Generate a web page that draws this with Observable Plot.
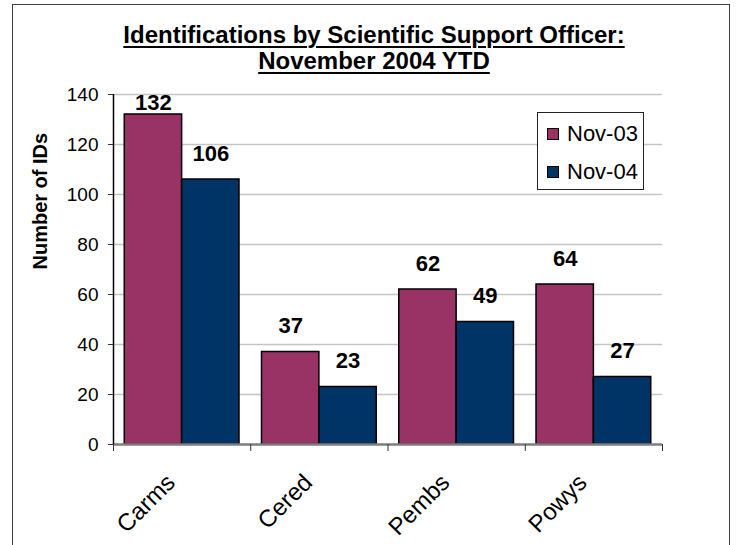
<!DOCTYPE html>
<html>
<head>
<meta charset="utf-8">
<script src="https://cdn.jsdelivr.net/npm/d3@7"></script>
<script src="https://cdn.jsdelivr.net/npm/@observablehq/plot@0.6"></script>
<style>
  html, body { margin: 0; padding: 0; background: #fff; overflow: hidden; }
  #wrap { position: relative; width: 736px; height: 545px; overflow: hidden; font-family: "Liberation Sans", Arial, sans-serif; }
  #frame { position: absolute; left: 12px; top: 4px; width: 718px; height: 600px; border: 1.5px solid #404040; box-sizing: border-box; pointer-events: none; }
  .title { position: absolute; left: 0; width: 748px; text-align: center; font-weight: bold; font-size: 24px; line-height: 26px; letter-spacing: 0px; color: #000; text-decoration: underline; text-decoration-thickness: 2px; text-underline-offset: 3px; white-space: nowrap; }
  #legend { position: absolute; left: 537px; top: 112px; width: 107px; height: 78px; border: 1px solid #222; box-sizing: border-box; background: #fff; }
  .item { position: absolute; left: 0; font-size: 22px; line-height: 26px; color: #000; white-space: nowrap; }
  .sw { position: absolute; width: 12px; height: 12px; border: 1px solid #000; box-sizing: border-box; }
  #chart { position: absolute; left: 0; top: 0; }
</style>
</head>
<body>
<div id="wrap">
  <div id="chart"></div>
  <div id="title1" class="title" style="top:22px"></div>
  <div id="title2" class="title" style="top:48px"></div>
  <div id="legend"></div>
  <div id="frame"></div>
</div>
<script>
const titleLines = ["Identifications by Scientific Support Officer:", "November 2004 YTD"];
const yLabel = "Number of IDs";
const categories = ["Carms", "Cered", "Pembs", "Powys"];
const seriesNames = ["Nov-03", "Nov-04"];
const nov03 = [132, 37, 62, 64];
const nov04 = [106, 23, 49, 27];
const seriesColors = ["#993366", "#003366"];
const yTicks = [0, 20, 40, 60, 80, 100, 120, 140];

document.getElementById("title1").textContent = titleLines[0];
document.getElementById("title2").textContent = titleLines[1];

// build table
const seriesValues = [nov03, nov04];
const rows = [];
categories.forEach((c, i) => {
  seriesNames.forEach((s, j) => {
    rows.push({cat: c, i, j, series: s, value: seriesValues[j][i]});
  });
});

const groupPad = 0.082;
const barW = (1 - 2 * groupPad) / 2;
const boundaries = d3.range(categories.length + 1);

const chart = Plot.plot({
  width: 736,
  height: 545,
  marginLeft: 113,
  marginRight: 74,
  marginTop: 94,
  marginBottom: 101,
  style: {fontFamily: "'Liberation Sans', Arial, sans-serif", background: "transparent", color: "#000"},
  x: {type: "linear", domain: [0, categories.length], axis: null},
  y: {domain: [0, 140], axis: null},
  color: {domain: seriesNames, range: seriesColors},
  marks: [
    Plot.gridY(yTicks, {stroke: "#c4c4c4", strokeOpacity: 1, strokeWidth: 1.5}),
    Plot.rectY(rows, {
      x1: d => d.i + groupPad + d.j * barW,
      x2: d => d.i + groupPad + (d.j + 1) * barW,
      y: "value",
      fill: "series",
      stroke: "#000",
      strokeWidth: 1.5
    }),
    Plot.ruleY([0], {stroke: "#808080", strokeWidth: 2.5}),
    Plot.ruleX([0], {stroke: "#000", strokeWidth: 1.5}),
    Plot.axisY({ticks: yTicks, tickSize: 5, tickPadding: 10, fontSize: 19, label: null, stroke: "#333"}),
    Plot.axisX({ticks: boundaries, tickSize: 7, tickFormat: () => "", label: null, stroke: "#333"}),
    Plot.text(categories, {
      x: (d, i) => i + 0.5,
      y: () => 0,
      text: d => d,
      rotate: -45,
      textAnchor: "end",
      lineAnchor: "middle",
      dx: -11,
      dy: 34,
      fontSize: 24,
      fill: "#000"
    }),
    Plot.text(rows, {
      x: d => d.i + groupPad + (d.j + 0.5) * barW,
      y: d => Math.min(d.value + 10.4, 136.6),
      text: d => String(d.value),
      fontWeight: "bold",
      fontSize: 22,
      fill: "#000",
      lineAnchor: "middle"
    }),
    Plot.text([yLabel], {frameAnchor: "left", dx: -72.5, rotate: -90, fontWeight: "bold", fontSize: 20, fill: "#000", lineAnchor: "middle"})
  ]
});
document.getElementById("chart").appendChild(chart);

// legend
const legend = document.getElementById("legend");
const rowTops = [8, 45.5];
seriesNames.forEach((s, j) => {
  const sw = document.createElement("div");
  sw.className = "sw";
  sw.style.left = "9px";
  sw.style.top = (rowTops[j] + 7) + "px";
  sw.style.background = seriesColors[j];
  legend.appendChild(sw);
  const it = document.createElement("div");
  it.className = "item";
  it.style.left = "29px";
  it.style.top = rowTops[j] + "px";
  it.textContent = s;
  legend.appendChild(it);
});
</script>
</body>
</html>
